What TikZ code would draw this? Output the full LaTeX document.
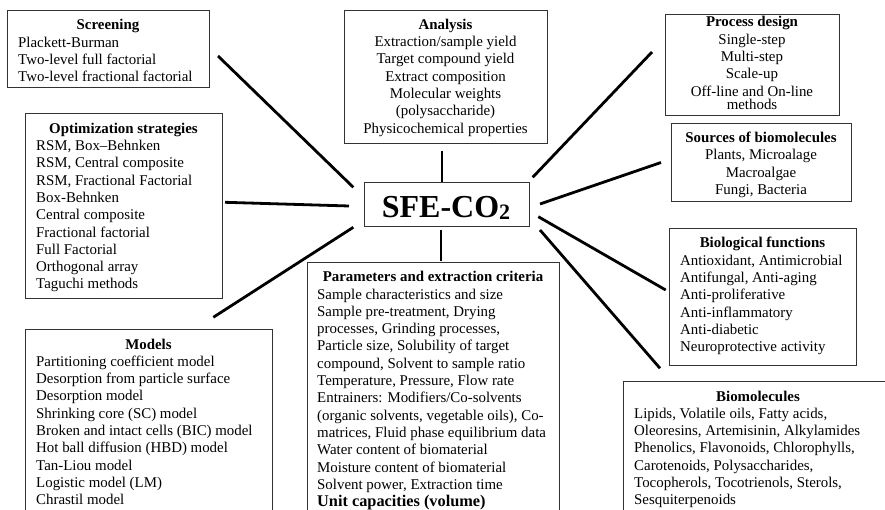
\documentclass[tikz,border=0pt]{standalone}
\usepackage{fontspec}
\setmainfont{Liberation Serif}
\newcommand\fsz{\fontsize{14.9}{17.3}\selectfont}
\begin{document}
\begin{tikzpicture}[x=1pt,y=-1pt,
  frame/.style={draw=black!80, line width=0.9pt, inner sep=0pt, anchor=north west},
  link/.style={line width=2.8pt},
  hd/.style={font=\fsz\bfseries, anchor=base, inner sep=0pt},
  bd/.style={font=\fsz, align=left, anchor=base west, inner sep=0pt},
  cbd/.style={font=\fsz, align=center, anchor=base, inner sep=0pt}]
\useasboundingbox (0,0) rectangle (885,510);
\clip (0,0) rectangle (885,510);

% frames
\node[frame, minimum width=202pt, minimum height=77pt] (scr) at (7,10) {};
\node[frame, minimum width=197pt, minimum height=185pt] (opt) at (25,113) {};
\node[frame, minimum width=247pt, minimum height=200pt] (mod) at (25,329) {};
\node[frame, minimum width=203pt, minimum height=133pt] (ana) at (344,10) {};
\node[frame, minimum width=174pt, minimum height=101pt] (pro) at (665,14) {};
\node[frame, minimum width=180pt, minimum height=78pt] (src) at (671,123) {};
\node[frame, minimum width=187pt, minimum height=137pt] (bio) at (669,228) {};
\node[frame, minimum width=252pt, minimum height=260pt] (par) at (307,262) {};
\node[frame, minimum width=270pt, minimum height=150pt] (bmo) at (623,381) {};
\node[frame, minimum width=165pt, minimum height=44.5pt] (sfe) at (363.5,182) {};

% texts (multi-line nodes are placed by the baseline of their last line)
\node[anchor=base, inner sep=0pt, font=\fontsize{32}{32}\selectfont\bfseries] (sfet) at (446,217.3)
  {SFE-CO\raisebox{-2pt}{\fontsize{22}{22}\selectfont 2}};

\node[hd] (scrh) at (108,30) {Screening};
\node[bd] (scrt) at (18,81.9) {Plackett-Burman\\Two-level full factorial\\Two-level fractional factorial};

\node[hd] (opth) at (123.5,133.3) {Optimization strategies};
\node[bd] (optt) at (36,289.0) {RSM, Box--Behnken\\RSM, Central composite\\RSM, Fractional Factorial\\Box-Behnken\\Central composite\\Fractional factorial\\Full Factorial\\Orthogonal array\\Taguchi methods};

\node[hd] (modh) at (148.5,349) {Models};
\node[bd] (modt) at (36,504.7) {Partitioning coefficient model\\Desorption from particle surface\\Desorption model\\Shrinking core (SC) model\\Broken and intact cells (BIC) model\\Hot ball diffusion (HBD) model\\Tan-Liou model\\Logistic model (LM)\\Chrastil model};

\node[cbd] (anat) at (445.5,133.1) {\textbf{Analysis}\\Extraction/sample yield\\Target compound yield\\Extract composition\\Molecular weights\\(polysaccharide)\\Physicochemical properties};

\node[cbd] (prot) at (752,109.5) {\textbf{Process design}\\Single-step\\Multi-step\\Scale-up\\Off-line and On-line\\[-4pt]methods};

\node[cbd] (srct) at (761,194.6) {\textbf{Sources of biomolecules}\\Plants, Microalage\\Macroalgae\\Fungi, Bacteria};

\node[hd] (bioh) at (762.5,248) {Biological functions};
\node[bd] (biot) at (680,351.8) {Antioxidant, Antimicrobial\\Antifungal, Anti-aging\\Anti-proliferative\\Anti-inflammatory\\Anti-diabetic\\Neuroprotective activity};

\node[hd] (parh) at (433,281.7) {Parameters and extraction criteria};
\node[bd] (part) at (317,506.6) {Sample characteristics and size\\Sample pre-treatment, Drying\\processes, Grinding processes,\\Particle size, Solubility of target\\compound, Solvent to sample ratio\\Temperature, Pressure, Flow rate\\Entrainers: Modifiers/Co-solvents\\(organic solvents, vegetable oils), Co-\\matrices, Fluid phase equilibrium data\\Water content of biomaterial\\Moisture content of biomaterial\\Solvent power, Extraction time\\{\fontsize{16.3}{17.3}\selectfont\bfseries Unit capacities (volume)}};

\node[hd] (bmoh) at (758,401) {Biomolecules};
\node[bd] (bmot) at (634,504.8) {Lipids, Volatile oils, Fatty acids,\\Oleoresins, Artemisinin, Alkylamides\\Phenolics, Flavonoids, Chlorophylls,\\Carotenoids, Polysaccharides,\\Tocopherols, Tocotrienols, Sterols,\\Sesquiterpenoids};

% connector ends
\coordinate (a1) at (218,56);     \coordinate (a2) at (353.3,187.3);
\coordinate (b1) at (442,151);    \coordinate (b2) at (442,182);
\coordinate (c1) at (652,52);     \coordinate (c2) at (532.7,177.3);
\coordinate (d1) at (661,162.5);  \coordinate (d2) at (540,204);
\coordinate (e1) at (225,202.3);  \coordinate (e2) at (349,206);
\coordinate (f1) at (213.3,317.3);\coordinate (f2) at (353.3,227.3);
\coordinate (g1) at (441,230);    \coordinate (g2) at (441,261);
\coordinate (h1) at (538.3,216.7);\coordinate (h2) at (665.7,290);
\coordinate (i1) at (540,230);    \coordinate (i2) at (660,368.3);

\draw[link] (a1) -- (a2);
\draw[link] (b1) -- (b2);
\draw[link] (c1) -- (c2);
\draw[link] (d1) -- (d2);
\draw[link] (e1) -- (e2);
\draw[link] (f1) -- (f2);
\draw[link] (g1) -- (g2);
\draw[link] (h1) -- (h2);
\draw[link] (i1) -- (i2);
\end{tikzpicture}
\end{document}
